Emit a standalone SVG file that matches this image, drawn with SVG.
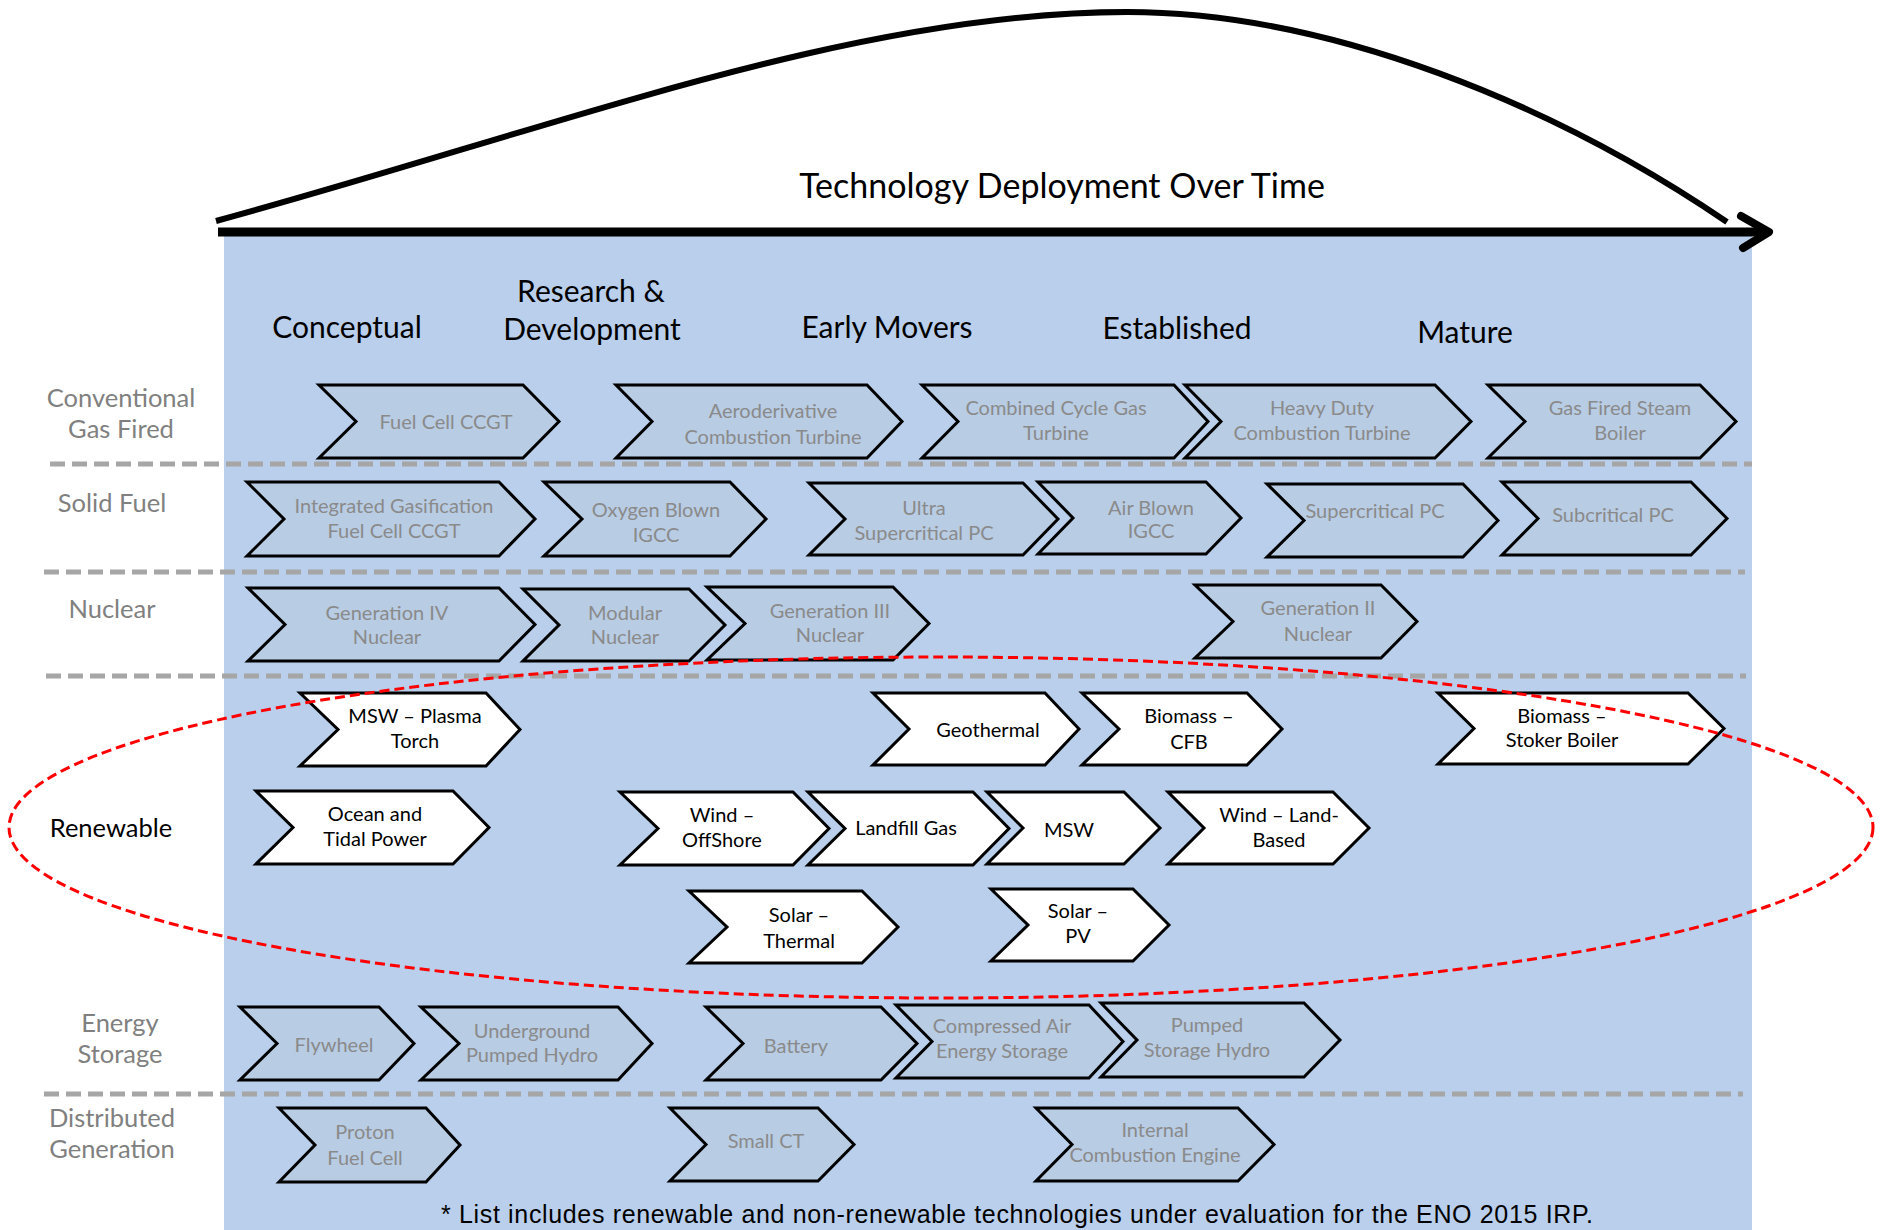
<svg xmlns="http://www.w3.org/2000/svg" width="1881" height="1230" viewBox="0 0 1881 1230">
<style>
text{font-family:Lato,"Noto Sans",sans-serif;text-anchor:middle}
.cg{fill:#b8cce4;stroke:#000;stroke-width:3;stroke-linejoin:miter}
.cw{fill:#fff;stroke:#000;stroke-width:3;stroke-linejoin:miter}
.tg{fill:#8a8a8a;font-size:20px}
.tb{fill:#000;font-size:20px}
.hd{fill:#000;font-size:30px}
.rl{fill:#808080;font-size:25.5px}
.sep{stroke:#a6a6a6;stroke-width:5;stroke-dasharray:15 7;fill:none}
</style>
<rect x="224" y="236" width="1528" height="994" fill="#b9cfeb"/>
<g id="axis" fill="none" stroke="#000">
<path d="M216,221 C550,130 850,12 1127,12 C1330,12 1555,105 1727,222" stroke-width="6"/>
<line x1="218" y1="232" x2="1764" y2="232" stroke-width="9"/>
<polyline points="1741,216 1769,232 1743,248" stroke-width="8" stroke-linecap="round" stroke-linejoin="round"/>
</g>
<text x="1062" y="198" style="font-size:34px">Technology Deployment Over Time</text>
<g id="phases" class="hd">
<text x="347" y="338" class="hd">Conceptual</text>
<text x="591" y="302" class="hd">Research &amp;</text>
<text x="592" y="340" class="hd">Development</text>
<text x="887" y="338" class="hd">Early Movers</text>
<text x="1177" y="339" class="hd">Established</text>
<text x="1465" y="343" class="hd">Mature</text>
</g>
<g id="row-labels">
<text x="121" y="407" class="rl">Conventional</text>
<text x="121" y="438" class="rl">Gas Fired</text>
<text x="112" y="512" class="rl">Solid Fuel</text>
<text x="112" y="618" class="rl">Nuclear</text>
<text x="111" y="837" class="rl" style="fill:#000">Renewable</text>
<text x="120" y="1032" class="rl">Energy</text>
<text x="120" y="1063" class="rl">Storage</text>
<text x="112" y="1127" class="rl">Distributed</text>
<text x="112" y="1158" class="rl">Generation</text>
</g>
<g id="separators">
<line x1="50" y1="464" x2="1752" y2="464" class="sep"/>
<line x1="44" y1="572" x2="1745" y2="572" class="sep"/>
<line x1="46" y1="676" x2="1746" y2="676" class="sep"/>
<line x1="44" y1="1094" x2="1743" y2="1094" class="sep"/>
</g>
<g id="n1"><path class="cg" d="M319,385 L523,385 L559,421.5 L523,458 L319,458 L356,421.5 Z"/><text class="tg" x="446" y="429">Fuel Cell CCGT</text></g>
<g id="n2"><path class="cg" d="M616,385 L867,385 L902,421.5 L867,458 L616,458 L652,421.5 Z"/><text class="tg" x="773" y="418">Aeroderivative</text><text class="tg" x="773" y="444">Combustion Turbine</text></g>
<g id="n3"><path class="cg" d="M922,385 L1174,385 L1208,421.5 L1174,458 L922,458 L958,421.5 Z"/><text class="tg" x="1056" y="415">Combined Cycle Gas</text><text class="tg" x="1056" y="440">Turbine</text></g>
<g id="n4"><path class="cg" d="M1185,385 L1435,385 L1471,421.5 L1435,458 L1185,458 L1221,421.5 Z"/><text class="tg" x="1322" y="415">Heavy Duty</text><text class="tg" x="1322" y="440">Combustion Turbine</text></g>
<g id="n5"><path class="cg" d="M1488,385 L1700,385 L1736,421.5 L1700,458 L1488,458 L1525,421.5 Z"/><text class="tg" x="1620" y="415">Gas Fired Steam</text><text class="tg" x="1620" y="440">Boiler</text></g>
<g id="n6"><path class="cg" d="M247,482 L499,482 L535,519 L499,556 L247,556 L284,519 Z"/><text class="tg" x="394" y="513">Integrated Gasification</text><text class="tg" x="394" y="538">Fuel Cell CCGT</text></g>
<g id="n7"><path class="cg" d="M544,482 L730,482 L766,519 L730,556 L544,556 L582,519 Z"/><text class="tg" x="656" y="517">Oxygen Blown</text><text class="tg" x="656" y="542">IGCC</text></g>
<g id="n8"><path class="cg" d="M809,483 L1023,483 L1058,519 L1023,555 L809,555 L845,519 Z"/><text class="tg" x="924" y="515">Ultra</text><text class="tg" x="924" y="540">Supercritical PC</text></g>
<g id="n9"><path class="cg" d="M1038,482 L1206,482 L1241,518 L1206,554 L1038,554 L1073,518 Z"/><text class="tg" x="1151" y="515">Air Blown</text><text class="tg" x="1151" y="538">IGCC</text></g>
<g id="n10"><path class="cg" d="M1267,484 L1463,484 L1498,520.5 L1463,557 L1267,557 L1304,520.5 Z"/><text class="tg" x="1375" y="518">Supercritical PC</text></g>
<g id="n11"><path class="cg" d="M1502,482 L1691,482 L1727,518.5 L1691,555 L1502,555 L1538,518.5 Z"/><text class="tg" x="1613" y="522">Subcritical PC</text></g>
<g id="n12"><path class="cg" d="M248,588 L499,588 L535,624.5 L499,661 L248,661 L285,624.5 Z"/><text class="tg" x="387" y="620">Generation IV</text><text class="tg" x="387" y="644">Nuclear</text></g>
<g id="n13"><path class="cg" d="M523,589 L689,589 L725,625 L689,661 L523,661 L559,625 Z"/><text class="tg" x="625" y="620">Modular</text><text class="tg" x="625" y="644">Nuclear</text></g>
<g id="n14"><path class="cg" d="M707,587 L893,587 L929,623.5 L893,660 L707,660 L745,623.5 Z"/><text class="tg" x="830" y="618">Generation III</text><text class="tg" x="830" y="642">Nuclear</text></g>
<g id="n15"><path class="cg" d="M1195,585 L1381,585 L1417,621.5 L1381,658 L1195,658 L1233,621.5 Z"/><text class="tg" x="1318" y="615">Generation II</text><text class="tg" x="1318" y="641">Nuclear</text></g>
<g id="n16"><path class="cw" d="M300,693 L486,693 L520,729.5 L486,766 L300,766 L338,729.5 Z"/><text class="tb" x="415" y="723">MSW – Plasma</text><text class="tb" x="415" y="748">Torch</text></g>
<g id="n17"><path class="cw" d="M873,693 L1045,693 L1079,729 L1045,765 L873,765 L909,729 Z"/><text class="tb" x="988" y="737">Geothermal</text></g>
<g id="n18"><path class="cw" d="M1082,693 L1247,693 L1282,729 L1247,765 L1082,765 L1119,729 Z"/><text class="tb" x="1189" y="723">Biomass –</text><text class="tb" x="1189" y="749">CFB</text></g>
<g id="n19"><path class="cw" d="M1438,693 L1688,693 L1724,728.5 L1688,764 L1438,764 L1474,728.5 Z"/><text class="tb" x="1562" y="723">Biomass –</text><text class="tb" x="1562" y="747">Stoker Boiler</text></g>
<g id="n20"><path class="cw" d="M256,791 L453,791 L489,827.5 L453,864 L256,864 L293,827.5 Z"/><text class="tb" x="375" y="821">Ocean and</text><text class="tb" x="375" y="846">Tidal Power</text></g>
<g id="n21"><path class="cw" d="M620,792 L793,792 L829,828.5 L793,865 L620,865 L658,828.5 Z"/><text class="tb" x="722" y="822">Wind –</text><text class="tb" x="722" y="847">OffShore</text></g>
<g id="n22"><path class="cw" d="M808,792 L973,792 L1009,828.5 L973,865 L808,865 L845,828.5 Z"/><text class="tb" x="906" y="835">Landfill Gas</text></g>
<g id="n23"><path class="cw" d="M987,792 L1124,792 L1160,828 L1124,864 L987,864 L1023,828 Z"/><text class="tb" x="1069" y="837">MSW</text></g>
<g id="n24"><path class="cw" d="M1168,792 L1333,792 L1369,828 L1333,864 L1168,864 L1204,828 Z"/><text class="tb" x="1279" y="822">Wind – Land-</text><text class="tb" x="1279" y="847">Based</text></g>
<g id="n25"><path class="cw" d="M689,891 L862,891 L898,927 L862,963 L689,963 L727,927 Z"/><text class="tb" x="799" y="922">Solar –</text><text class="tb" x="799" y="948">Thermal</text></g>
<g id="n26"><path class="cw" d="M991,889 L1133,889 L1169,925 L1133,961 L991,961 L1028,925 Z"/><text class="tb" x="1078" y="918">Solar –</text><text class="tb" x="1078" y="943">PV</text></g>
<g id="n27"><path class="cg" d="M240,1007 L379,1007 L414,1043.5 L379,1080 L240,1080 L277,1043.5 Z"/><text class="tg" x="334" y="1052">Flywheel</text></g>
<g id="n28"><path class="cg" d="M421,1007 L618,1007 L652,1043.5 L618,1080 L421,1080 L459,1043.5 Z"/><text class="tg" x="532" y="1038">Underground</text><text class="tg" x="532" y="1062">Pumped Hydro</text></g>
<g id="n29"><path class="cg" d="M706,1007 L881,1007 L917,1043.5 L881,1080 L706,1080 L743,1043.5 Z"/><text class="tg" x="796" y="1053">Battery</text></g>
<g id="n30"><path class="cg" d="M896,1005 L1089,1005 L1123,1041.5 L1089,1078 L896,1078 L932,1041.5 Z"/><text class="tg" x="1002" y="1033">Compressed Air</text><text class="tg" x="1002" y="1058">Energy Storage</text></g>
<g id="n31"><path class="cg" d="M1101,1003 L1304,1003 L1340,1040 L1304,1077 L1101,1077 L1137,1040 Z"/><text class="tg" x="1207" y="1032">Pumped</text><text class="tg" x="1207" y="1057">Storage Hydro</text></g>
<g id="n32"><path class="cg" d="M279,1108 L426,1108 L460,1145 L426,1182 L279,1182 L315,1145 Z"/><text class="tg" x="365" y="1139">Proton</text><text class="tg" x="365" y="1165">Fuel Cell</text></g>
<g id="n33"><path class="cg" d="M670,1108 L818,1108 L854,1144.5 L818,1181 L670,1181 L706,1144.5 Z"/><text class="tg" x="766" y="1148">Small CT</text></g>
<g id="n34"><path class="cg" d="M1036,1108 L1238,1108 L1274,1144.5 L1238,1181 L1036,1181 L1072,1144.5 Z"/><text class="tg" x="1155" y="1137">Internal</text><text class="tg" x="1155" y="1162">Combustion Engine</text></g>
<ellipse id="renewable-highlight" cx="941" cy="827.5" rx="932" ry="170.5" fill="none" stroke="#ff0000" stroke-width="3" stroke-dasharray="10 5"/>
<text x="1017" y="1223" style="font-family:'Liberation Sans',Arial,sans-serif;font-size:25px" textLength="1152">* List includes renewable and non-renewable technologies under evaluation for the ENO 2015 IRP.</text>
</svg>
